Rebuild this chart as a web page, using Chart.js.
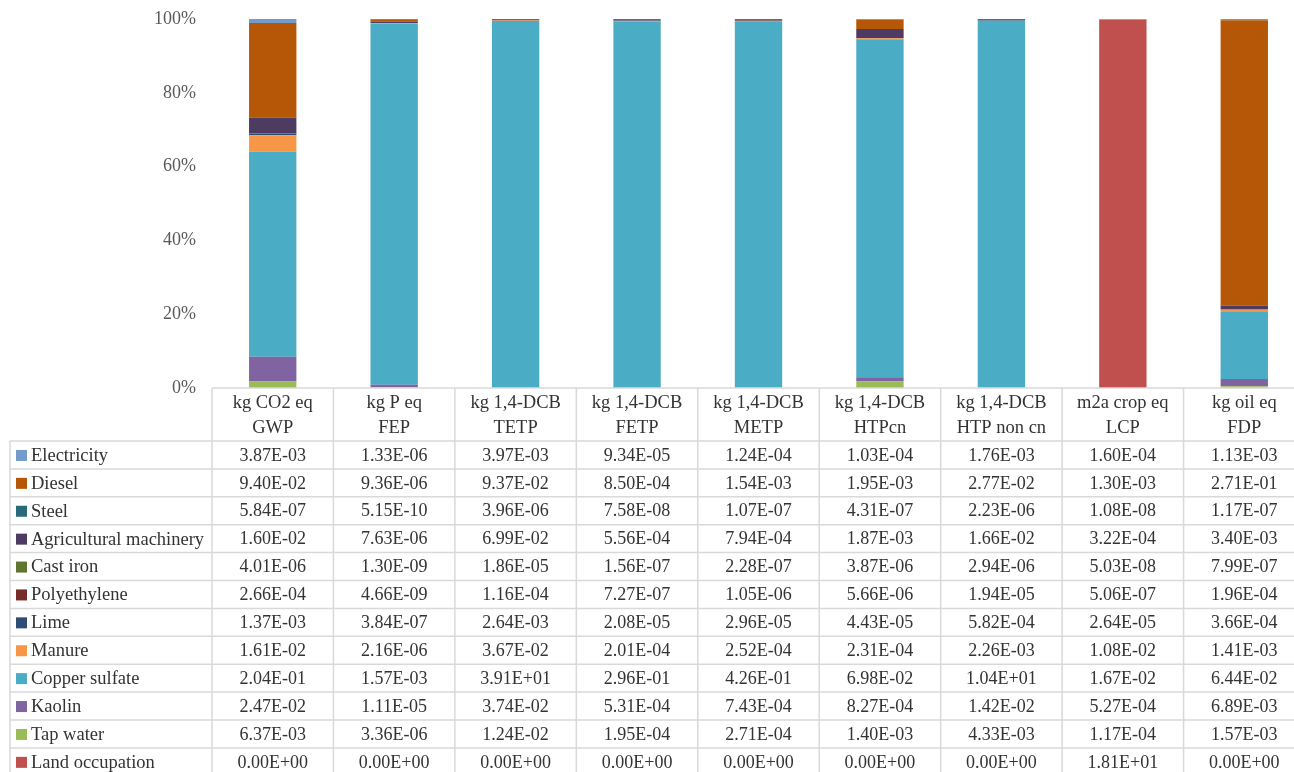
<!DOCTYPE html>
<html>
<head>
<meta charset="utf-8">
<script src="https://cdn.jsdelivr.net/npm/chart.js@4"></script>
<style>
  html, body { margin: 0; padding: 0; background: #fff; overflow: hidden; }
  canvas { display: block; }
</style>
</head>
<body>
<canvas id="lcaChart" width="1305" height="772"></canvas>
<script>
// категорії впливу та одиниці
const categories = ['GWP', 'FEP', 'TETP', 'FETP', 'METP', 'HTPcn', 'HTP non cn', 'LCP', 'FDP'];
const units = ['kg CO2 eq', 'kg P eq', 'kg 1,4-DCB', 'kg 1,4-DCB', 'kg 1,4-DCB', 'kg 1,4-DCB', 'kg 1,4-DCB', 'm2a crop eq', 'kg oil eq'];

// значення з таблиці
const electricity = [3.87e-3, 1.33e-6, 3.97e-3, 9.34e-5, 1.24e-4, 1.03e-4, 1.76e-3, 1.60e-4, 1.13e-3];
const diesel = [9.40e-2, 9.36e-6, 9.37e-2, 8.50e-4, 1.54e-3, 1.95e-3, 2.77e-2, 1.30e-3, 2.71e-1];
const steel = [5.84e-7, 5.15e-10, 3.96e-6, 7.58e-8, 1.07e-7, 4.31e-7, 2.23e-6, 1.08e-8, 1.17e-7];
const agriculturalMachinery = [1.60e-2, 7.63e-6, 6.99e-2, 5.56e-4, 7.94e-4, 1.87e-3, 1.66e-2, 3.22e-4, 3.40e-3];
const castIron = [4.01e-6, 1.30e-9, 1.86e-5, 1.56e-7, 2.28e-7, 3.87e-6, 2.94e-6, 5.03e-8, 7.99e-7];
const polyethylene = [2.66e-4, 4.66e-9, 1.16e-4, 7.27e-7, 1.05e-6, 5.66e-6, 1.94e-5, 5.06e-7, 1.96e-4];
const lime = [1.37e-3, 3.84e-7, 2.64e-3, 2.08e-5, 2.96e-5, 4.43e-5, 5.82e-4, 2.64e-5, 3.66e-4];
const manure = [1.61e-2, 2.16e-6, 3.67e-2, 2.01e-4, 2.52e-4, 2.31e-4, 2.26e-3, 1.08e-2, 1.41e-3];
const copperSulfate = [2.04e-1, 1.57e-3, 3.91e+1, 2.96e-1, 4.26e-1, 6.98e-2, 1.04e+1, 1.67e-2, 6.44e-2];
const kaolin = [2.47e-2, 1.11e-5, 3.74e-2, 5.31e-4, 7.43e-4, 8.27e-4, 1.42e-2, 5.27e-4, 6.89e-3];
const tapWater = [6.37e-3, 3.36e-6, 1.24e-2, 1.95e-4, 2.71e-4, 1.40e-3, 4.33e-3, 1.17e-4, 1.57e-3];
const landOccupation = [0, 0, 0, 0, 0, 0, 0, 1.81e+1, 0];

const yTicks = [0, 20, 40, 60, 80, 100];

// порядок рядків таблиці (зверху вниз)
const series = [
  { label: 'Electricity', values: electricity, color: '#729ACA' },
  { label: 'Diesel', values: diesel, color: '#B65708' },
  { label: 'Steel', values: steel, color: '#276A7C' },
  { label: 'Agricultural machinery', values: agriculturalMachinery, color: '#4D3B62' },
  { label: 'Cast iron', values: castIron, color: '#5F7530' },
  { label: 'Polyethylene', values: polyethylene, color: '#772C2A' },
  { label: 'Lime', values: lime, color: '#2C4D75' },
  { label: 'Manure', values: manure, color: '#F79646' },
  { label: 'Copper sulfate', values: copperSulfate, color: '#4BACC6' },
  { label: 'Kaolin', values: kaolin, color: '#8064A2' },
  { label: 'Tap water', values: tapWater, color: '#9BBB59' },
  { label: 'Land occupation', values: landOccupation, color: '#C0504D' }
];

// суми по кожній категорії для 100% стовпців
const totals = categories.map((c, i) => series.reduce((s, d) => s + d.values[i], 0));

function fmt(v) {
  const [m, e] = v.toExponential(2).split('e');
  const sign = e[0] === '-' ? '-' : '+';
  const digits = e.replace(/[+-]/, '').padStart(2, '0');
  return m + 'E' + sign + digits;
}

const textColor = '#333333';
const lineColor = '#d9d9d9';

// таблиця даних під графіком
const dataTable = {
  id: 'dataTable',
  afterDraw(chart) {
    const ctx = chart.ctx;
    const xs = chart.scales.x;
    const area = chart.chartArea;
    const colW = (area.right - area.left) / categories.length;
    const top = area.bottom;
    const headH = 53;
    const rowH = 27.9;
    const tableLeft = 10;
    const bodyTop = top + headH;
    const bottom = bodyTop + rowH * series.length;

    ctx.save();
    ctx.strokeStyle = lineColor;
    ctx.lineWidth = 1.5;
    ctx.beginPath();
    ctx.moveTo(area.left, top);
    ctx.lineTo(area.right, top);
    for (let r = 0; r <= series.length; r++) {
      const y = bodyTop + r * rowH;
      ctx.moveTo(tableLeft, y);
      ctx.lineTo(area.right, y);
    }
    ctx.moveTo(tableLeft, bodyTop);
    ctx.lineTo(tableLeft, bottom);
    for (let i = 0; i <= categories.length; i++) {
      const x = area.left + i * colW;
      ctx.moveTo(x, top);
      ctx.lineTo(x, bottom);
    }
    ctx.stroke();

    ctx.fillStyle = textColor;
    ctx.textBaseline = 'middle';
    ctx.textAlign = 'center';
    ctx.font = '18.5px "Liberation Serif"';
    categories.forEach((c, i) => {
      const cx = xs.getPixelForTick(i);
      ctx.fillText(units[i], cx, top + 15);
      ctx.fillText(c, cx, top + 40);
    });

    series.forEach((s, r) => {
      const cy = bodyTop + r * rowH + rowH / 2;
      ctx.fillStyle = s.color;
      ctx.fillRect(16, cy - 5, 11, 11);
      ctx.fillStyle = textColor;
      ctx.textAlign = 'left';
      ctx.font = '18.5px "Liberation Serif"';
      ctx.fillText(s.label, 31, cy + 1);
      ctx.textAlign = 'center';
      ctx.font = '18px "Liberation Serif"';
      s.values.forEach((v, i) => {
        ctx.fillText(fmt(v), xs.getPixelForTick(i), cy + 1);
      });
    });
    ctx.restore();
  }
};

// набори даних знизу вгору (обернений порядок таблиці)
const datasets = series.slice().reverse().map(s => ({
  label: s.label,
  data: s.values.map((v, i) => v / totals[i] * 100),
  backgroundColor: s.color,
  borderWidth: 0,
  categoryPercentage: 1,
  barPercentage: 0.39
}));

const ctx = document.getElementById('lcaChart').getContext('2d');
const lcaChart = new Chart(ctx, {
  type: 'bar',
  data: { labels: categories, datasets: datasets },
  options: {
    responsive: false,
    animation: false,
    layout: { padding: { top: 19, bottom: 384, left: 0, right: 0 } },
    scales: {
      x: { stacked: true, display: false },
      y: {
        stacked: true,
        min: 0,
        max: 100,
        afterFit: scale => {
          scale.width = 212;
          scale.paddingTop = 0;
          scale.paddingBottom = 0;
        },
        afterBuildTicks: scale => { scale.ticks = yTicks.map(v => ({ value: v })); },
        grid: { display: false, drawTicks: false },
        border: { display: false },
        ticks: {
          padding: 16,
          color: '#595959',
          font: { family: 'Liberation Serif', size: 18 },
          callback: v => v + '%'
        }
      }
    },
    plugins: {
      legend: { display: false },
      tooltip: { enabled: false }
    }
  },
  plugins: [dataTable]
});
</script>
</body>
</html>
